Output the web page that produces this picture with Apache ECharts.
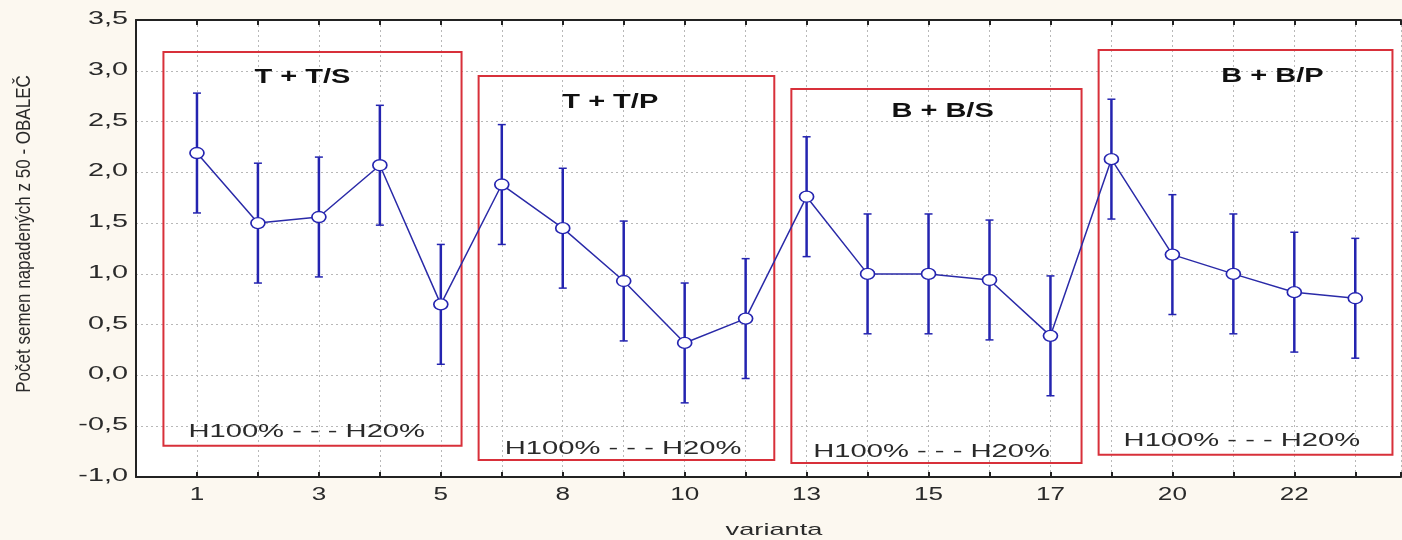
<!DOCTYPE html>
<html>
<head>
<meta charset="utf-8">
<script src="https://cdn.jsdelivr.net/npm/echarts@6/dist/echarts.min.js"></script>
<style>
html,body{margin:0;padding:0;background:#fcf8f0;}
#chart{width:1402px;height:540px;}
</style>
</head>
<body>
<div id="chart"></div>
<script>
// Variant labels (category for each point)
const categories = ['1','2','3','4','5','7','8','9','10','11','13','14','15','16','17','19','20','21','22','23'];
// Mean values
const means = [2.19,1.50,1.56,2.07,0.70,1.88,1.45,0.93,0.32,0.56,1.76,1.00,1.00,0.94,0.39,2.13,1.19,1.00,0.82,0.76];
// Half-width of the error bars
const errors = [0.59,0.59,0.59,0.59,0.59,0.59,0.59,0.59,0.59,0.59,0.59,0.59,0.59,0.59,0.59,0.59,0.59,0.59,0.59,0.59];
// Y tick values
const yTicks = [-1.0,-0.5,0.0,0.5,1.0,1.5,2.0,2.5,3.0,3.5];
// Group names
const groupNames = ['T + T/S','T + T/P','B + B/S','B + B/P'];
const rangeLabel = 'H100% - - - H20%';
// Annotation boxes in data units: [x0, x1, yTop, yBottom]
const groupBoxes = [[-0.55,4.34,3.185,-0.693],[4.62,9.47,2.949,-0.833],[9.75,14.51,2.821,-0.862],[14.79,19.61,3.205,-0.781]];
const groupTitlePos = [[1.73,2.93],[6.78,2.69],[12.23,2.60],[17.64,2.94]];
const groupRangePos = [[1.80,-0.56],[6.99,-0.72],[12.05,-0.75],[17.14,-0.65]];

const yTitle = 'Počet semen napadených z 50 - OBALEČ';
const xTitle = 'varianta';

const chart = echarts.init(document.getElementById('chart'));
const FONT = '"Liberation Sans", Arial, sans-serif';
const BLUE = '#2424b0';
const TXT = '#2a2a2a';

const lineData = means.map((v,i)=>[i,v]);
const errData = means.map((v,i)=>[i, v-errors[i], v+errors[i]]);

const axisCommon = {
  type:'value', min:-1, max:19.75, interval:1,
  axisLine:{show:true, onZero:false, lineStyle:{color:'#222', width:2}},
  axisTick:{show:true, inside:true, length:5, lineStyle:{color:'#222', width:2}},
  axisLabel:{show:false}
};

const option = {
  backgroundColor: '#fcf8f0',
  animation: false,
  grid: {left:136, top:20, bottom:63, right:1, show:true, backgroundColor:'#ffffff', borderWidth:0},
  graphic: [
    {type:'text', x:24, y:234, rotation:Math.PI/2, scaleY:1.2, style:{text:yTitle, fontFamily:FONT, fontSize:17, fill:TXT, align:'center', verticalAlign:'middle'}},
    {type:'text', x:774, y:530, scaleX:1.6, style:{text:xTitle, fontFamily:FONT, fontSize:17, fill:TXT, align:'center', verticalAlign:'middle'}}
  ],
  xAxis: [
    Object.assign({}, axisCommon, {position:'bottom', splitLine:{show:true, lineStyle:{color:'#b8b8b8', type:[2,3], width:1}}}),
    Object.assign({}, axisCommon, {position:'top', splitLine:{show:false}})
  ],
  yAxis: {
    type:'value', min:-1, max:3.5, interval:0.5,
    axisLine:{show:true, onZero:false, lineStyle:{color:'#222', width:2}},
    axisTick:{show:false},
    axisLabel:{show:false},
    splitLine:{show:true, lineStyle:{color:'#b8b8b8', type:[2,3], width:1}}
  },
  series: [
    {
      type:'custom', name:'boxes', data: groupBoxes, z:1,
      renderItem:function(params, api){
        const p0 = api.coord([api.value(0), api.value(2)]);
        const p1 = api.coord([api.value(1), api.value(3)]);
        return {type:'rect', shape:{x:p0[0], y:p0[1], width:p1[0]-p0[0], height:p1[1]-p0[1]},
          style:{fill:'none', stroke:'#d8303a', lineWidth:2}};
      }
    },
    {
      type:'custom', name:'xLabels', data: categories.map((c,i)=>[i]), z:3,
      renderItem:function(params, api){
        const i = api.value(0);
        if (i % 2 !== 0) return null;
        const p = api.coord([i, -1]);
        return {type:'text', x:p[0], y:p[1]+18, scaleX:1.45, style:{text:categories[i], fontFamily:FONT, fontSize:18, fill:TXT, align:'center', verticalAlign:'middle'}};
      }
    },
    {
      type:'custom', name:'yLabels', data: yTicks.map(v=>[v]), z:3,
      renderItem:function(params, api){
        const v = api.value(0);
        const p = api.coord([-1, v]);
        return {type:'text', x:p[0]-8, y:p[1]-1, scaleX:1.6, style:{text:v.toFixed(1).replace('.', ','), fontFamily:FONT, fontSize:18, fill:TXT, align:'right', verticalAlign:'middle'}};
      }
    },
    {
      type:'custom', name:'groupTitles', data: groupTitlePos.map((p,i)=>[p[0],p[1],i]), z:3,
      renderItem:function(params, api){
        const p = api.coord([api.value(0), api.value(1)]);
        return {type:'text', x:p[0], y:p[1], scaleX:1.45, style:{text:groupNames[api.value(2)], fontFamily:FONT, fontWeight:'bold', fontSize:20, fill:'#111', align:'center', verticalAlign:'middle'}};
      }
    },
    {
      type:'custom', name:'groupRanges', data: groupRangePos, z:3,
      renderItem:function(params, api){
        const p = api.coord([api.value(0), api.value(1)]);
        return {type:'text', x:p[0], y:p[1], scaleX:1.62, style:{text:rangeLabel, fontFamily:FONT, fontSize:18, fill:TXT, align:'center', verticalAlign:'middle'}};
      }
    },
    {
      type:'custom', name:'errors', data: errData, z:4,
      renderItem:function(params, api){
        const lo = api.coord([api.value(0), api.value(1)]);
        const hi = api.coord([api.value(0), api.value(2)]);
        const c = 4;
        return {type:'group', children:[
          {type:'line', shape:{x1:lo[0], y1:lo[1], x2:hi[0], y2:hi[1]}, style:{stroke:BLUE, lineWidth:2.5}},
          {type:'line', shape:{x1:lo[0]-c, y1:lo[1], x2:lo[0]+c, y2:lo[1]}, style:{stroke:BLUE, lineWidth:1.5}},
          {type:'line', shape:{x1:hi[0]-c, y1:hi[1], x2:hi[0]+c, y2:hi[1]}, style:{stroke:BLUE, lineWidth:1.5}}
        ]};
      }
    },
    {
      type:'line', name:'mean', data: lineData, z:5,
      symbol:'circle', symbolSize:[14,11],
      lineStyle:{color:'#2a2aa8', width:1.5},
      itemStyle:{color:'#ffffff', borderColor:BLUE, borderWidth:1.5}
    }
  ]
};
chart.setOption(option);
</script>
</body>
</html>
